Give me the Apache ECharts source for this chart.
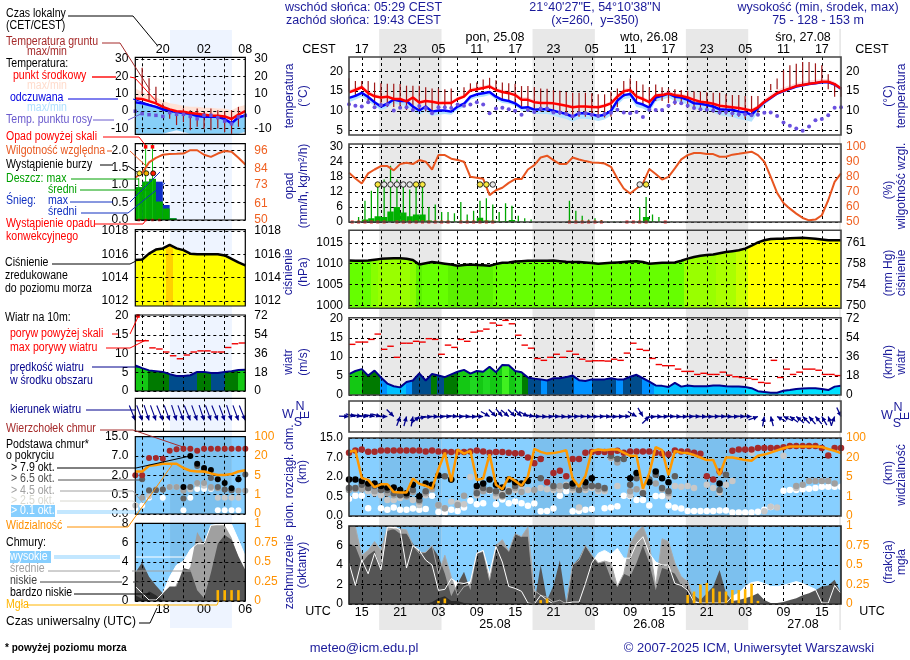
<!DOCTYPE html>
<html>
<head>
<meta charset="utf-8">
<style>html,body{margin:0;padding:0;background:#fff}#chart{width:910px;height:660px}</style>
<script src="https://cdn.jsdelivr.net/npm/echarts@6/dist/echarts.min.js"></script>
</head>
<body>
<div id="chart"></div>
<script>
// hours are counted from 24.08 00 UTC
var mainHours = [];
for (var h = 13; h <= 90; h++) mainHours.push(h);
var mainHalf = mainHours.slice(0, 77).map(function (v) { return v + 0.5; });
var sideHours = [14,15,16,17,18,19,20,21,22,23,24,25,26,27,28,29,30];
var sideHalf = sideHours.slice(0, 16).map(function (v) { return v + 0.5; });

var nightBands = [[17.72,27.48],[41.72,51.48],[65.72,75.48],[89.72,90]];
var sideNight = [[19.05,28.05]];

// ---- main panels
var meanTemp = [14.7,15.3,16,14.5,13.7,13.4,13.6,13,13,12.4,13.4,12.1,12.5,12.3,12,12,12,13,13.6,15.2,15.5,15.8,16.2,15.3,14.8,14.5,14,12.8,12.8,12.2,12,12,11.9,11.6,11.3,10.9,11.1,11.1,11,10.9,
  11.3,11.9,13.6,15,15.3,13.6,13,12.2,13.9,14,14.4,14,13.8,13.4,12.8,12.3,12.1,11.8,11.3,11.1,10.9,10.7,10.4,10,10.9,12.3,13.4,14.5,15.1,15.7,16.3,16.6,16.9,17.1,17.4,17.4,16.8,15.7];
var meanTempMax = [15.3,16,16.6,15.2,14.3,14,14.2,13.6,13.6,13,14,12.7,13.1,12.9,12.5,12.6,12.5,13.6,14.2,15.8,16.1,16.4,16.8,15.9,15.4,15.2,14.7,13.5,13.5,12.8,12.5,12.5,12.4,12.1,11.8,11.4,11.6,11.6,11.5,11.4,
  11.8,12.5,14.2,15.6,16,14.3,13.6,12.8,14.5,14.6,15,14.6,14.4,14,13.4,12.9,12.7,12.4,11.9,11.7,11.5,11.3,11,10.6,11.5,13,14.2,15.3,16,16.5,17.1,17.4,17.7,17.9,18.1,18.1,17.4,16.2];
var feltTemp = [13.3,13.8,14.6,13.5,12.2,11.1,11.8,12.9,12.5,12.5,11.1,10.1,11.1,9.8,10.1,10.1,9.8,11.1,11.8,13.6,14.2,14.5,14.8,13.6,12.8,12.5,11.9,10.8,10.9,10.3,10.4,10.4,10,9.6,9.2,8.5,9.4,9.4,9.1,8.7,
  9,10,12.6,14,14.3,12.1,11.6,10.8,13.4,13.8,14.4,13.6,13.4,12.8,11.9,11.8,11.5,11.1,10.4,10.3,10.3,9.8,9.6,9,10.7,12.2,13.3,14.4,15,15.6,16.2,16.5,16.8,17,17.3,17.3,16.7,15.6];
var feltTempMin = [12.2,12.8,13.6,12.5,11.2,10.2,10.8,11.9,11.5,11.3,10,9,9.8,8.7,9,9.2,9,10.2,11,12.8,13.4,13.6,14,12.8,12,11.8,11.2,10,9.9,9.2,9.2,9.2,8.8,8.3,7.9,7.2,8,8,7.8,7.4,
  7.8,8.8,11.5,13,13.2,11,10.6,9.6,12.3,12.8,13.4,12.5,12.2,11.6,10.6,10.4,10,9.6,8.9,8.6,8.4,7.9,7.6,7.2,9.6,11.5,12.8,14,14.7,15.3,15.9,16.2,16.5,16.7,17,17,16.3,15];
var groundMax = [18.3,17.6,17.6,17.6,17.2,17,16.9,16.9,16.8,16.4,16.4,16.4,16,15.7,15.7,15.5,15.7,null,16,17,17.2,18,18.4,17.8,17.2,17,16.9,16.3,16.3,16,15.7,15.6,15.3,15.1,14.8,14.6,14.6,14.6,14.5,14.2,
  14.2,14.9,15.7,17.6,18.2,17.6,16.7,16,16.7,16,15.7,15.5,15.3,15.1,14.9,14.9,14.7,14.6,14.6,14.2,14,14,13.8,13.8,13.8,null,16.8,18.2,20.3,21.6,22,22.4,22.4,22.1,21.6,19.3,17,16];
var groundMin = [15,13.6,15.8,12.5,11.5,11.5,11,11,11,10.2,10.2,9.8,9.8,9.8,10.5,10.5,10.5,null,13.5,15,15,15.3,15.5,15,13,12.5,12,11,11,10,9.8,9.8,9.5,9,9,8.5,8.5,8.5,8.5,8.3,
  8.3,8.5,11,13.5,14.2,12,11.5,11,12.5,12.5,12,11.5,11.5,11,10.5,10,10,9.5,9,9,8.5,8.5,8,8.5,9.5,null,15.2,15.5,15.5,16,16.5,16.8,17,17,17.2,15.5,13.6,13.6];
var dewPoint = [11.7,11.3,11.1,12.2,10.9,11.5,11.6,10.1,10.8,10.9,10.2,11.2,10.7,9.4,10.9,10.9,10.7,11.6,11.3,11.6,12.2,11.6,9.4,10.6,10.8,10.4,10,9,10.2,9.7,10.6,10.6,9.6,9.6,9.2,8.6,9.4,9.4,9,8.7,
  9.2,9.5,10.3,9.6,9.4,9.7,8.4,10.3,10.2,10.2,11.3,12.2,11.9,11.3,10.7,10.4,10.3,10.1,9.6,9.7,9.4,9.1,9.1,8.9,9,9.5,9.6,8.7,7,6.2,5.5,4.9,6,7.6,7.9,8.9,10.8,10.9];

var precipMax = [0,2,8.5,12.5,15,17,22.5,17,15.5,13,14,15.5,6,7,4,4,3.5,8,3,4.5,8.5,9.5,7,4,7.5,6.5,2.5,1.5,1,0,0,0,0,0,8.5,4.5,2.5,1,1.5,0.8,
  0.3,0.3,0.3,0.3,0.3,6,10,3,2,0.3,0.2,0,0,0,0,0,0,0,0,0,0,0,0,0,0,0,0,0,0,0,0,0,0,0,0,0,0];
var precipMean = [0,0.2,1,1.5,2.3,2,4.2,6,3.8,2.3,3,3,0.6,0.3,0.2,0.2,0.2,0.2,0.2,0.2,1.7,0.6,0.5,0.3,0.4,0.8,0.2,0.1,0,0,0,0,0,0,0.2,0.1,0,0,0,0,
  0,0,0,0,0,0.2,2,0.3,0.1,0,0,0,0,0,0,0,0,0,0,0,0,0,0,0,0,0,0,0,0,0,0,0,0,0,0,0,0];
var convectiveAt = [13.5,14.5,15.5,16.5,17.5,18.5,20.5,21.5,22.5,23.5,24.5,25.5,26.5,27.5,28.5,30.5,31.5,32.5,33.5,34.5,35.5,47.5,48.5,49.5,50.5,51.5,52.5,56.5,57.5,58.5,59.5,62.5];
var stormYellowAt = [17.5,23.5,24.5,33.5,34.5,59.5];
var stormPaleAt = [18.5,19.5,20.5,21.5,22.5,35.5,58.5];
var stormLevel = 15;
var humidity = [82.8,79,75.7,82.4,85,87.3,87.3,84.4,88.6,89.5,88.6,91.3,90.2,85,94.6,94.6,92.2,91.3,90.2,80.1,79.5,78.8,67.9,71.2,72.8,76.1,78.6,78.6,85,87.9,93,94.2,91.3,88.6,88.6,93,91.7,90.6,89.7,89.5,
  89,86.8,79,72.3,69,72.3,75.7,85.3,82,78.3,80.1,85.7,91.7,94.6,96,96,95.3,95.3,93.5,93.5,94.9,95.5,96.2,96.9,94.6,90.2,80.1,69.4,62.7,58.9,55.6,52.7,51.1,51.6,54.5,64.5,76.8,82.4];

var pressure = [1010.75,1010.7,1010.7,1010.75,1010.95,1011.15,1011.25,1011.3,1011.3,1011.2,1010.9,1009.8,1010.1,1010.4,1010.2,1010,1009.8,1009.5,1009.7,1009.8,1009.7,1009.6,1009.5,1009.9,1010.2,1010.3,1010.5,1010.6,1010.7,1010.7,1010.7,1010.7,1010.75,1010.6,1010.45,1010.4,1010.4,1010.3,1010.15,1010,
  1010.1,1010.2,1010.3,1010.4,1010.5,1010.6,1010.4,1010,1010.1,1010.2,1010.25,1010.3,1010.7,1011.2,1011.6,1011.9,1012.05,1012.2,1012.5,1012.8,1013,1013.2,1013.6,1014.3,1015.1,1015.6,1015.9,1016,1016,1016.1,1016.15,1016.2,1016.1,1016,1015.8,1015.6,1015.6,1015.6];
var windSpeed = [5.5,6.3,6.8,5.1,6.4,4.6,3,2.3,2,3.4,3.8,5.7,3.8,5.5,5.1,4.7,5.4,6.1,6.6,5.6,6.3,6.1,7.4,6,7.9,7.8,6.3,6,4.6,4.3,4.1,3.8,4.4,4.4,4.7,5.1,3.9,3.7,4.1,4.1,
  4.1,4.4,4.1,4.1,4.8,5.3,4.4,3.5,2.5,2.4,2.1,3.2,2.2,2.5,2.3,2.3,2.3,2.5,2.5,2.3,2.2,2.2,2.1,1.8,1,0.8,0.6,0.6,1.1,1.3,1.6,1.7,1.8,1.8,1.6,1.3,2.2,2.4];
var windGust = [13.3,13.9,13.9,14.6,16,12,12.8,9.9,13.6,13.6,14.1,13.9,14.8,14.6,10.7,13.1,12.5,14.6,14.1,16.5,16.8,17.3,18.9,18.3,19.6,18.7,15.7,13.1,12.3,9.6,9.1,9.9,10.7,9.9,11.5,10.7,9.4,8.9,9,9,
  8.9,9.4,9.1,11,13.6,12,11.7,9.6,8,7.7,7.7,6.8,6.2,6.2,5.4,5.7,5.4,5.4,6,5.2,4.8,4.6,4.4,4.1,3.3,3.1,9.1,4.6,6.8,5.4,6,6.8,6.8,6.5,5.4,5.4,5.1];
var windDir = [272,285,280,275,280,285,270,315,200,195,190,230,255,265,270,268,272,275,270,272,268,270,300,315,320,310,315,315,300,280,272,270,268,272,270,268,270,272,270,268,
  270,272,268,270,272,300,330,225,265,270,268,272,270,268,270,272,270,268,270,272,270,268,272,270,250,190,165,120,115,125,130,135,140,140,150,160,200,335];
// colour of the wind area: [until hour, colour]
var windBright = '#40f020', windGreen = '#14c814', windLime = '#20d820', windDark = '#007a00', windNavy = '#004c8c', windBlue = '#0090ff', windSky = '#00c0ff', windCyan = '#00e0ff';
var windSegments = [[15,windGreen],[17.9,windDark],[18.9,windBlue],[21.9,windSky],[22.8,windBlue],[25.9,windNavy],[26.8,windDark],[27.9,windNavy],[30,windDark],[32,windGreen],[33,windLime],[34,windGreen],[35,windLime],[37,windGreen],[38,windBright],[39,windGreen],[40,windLime],[41,windDark],[43,windNavy],[44,windBlue],[48.2,windNavy],[51,windBlue],[54.8,windNavy],[55.9,windBlue],[58.8,windNavy],[60.8,windBlue],[74.9,windSky],[90,windCyan]];
var sideWindSegments = [[15.8,windGreen],[18.9,windDark],[23,windNavy],[25,windDark],[27.1,windNavy],[29,windDark],[30,windGreen]];

var cloudTop = [9,9.9,10.3,9.4,9.4,9.9,9.9,9.9,9.9,9.9,9.9,9.9,9.5,9.9,9.5,9.3,9.3,9.3,9.3,9.5,9.9,9.5,9,9.3,9.3,9,8.7,8.7,7,5.5,6.6,1.6,3,3.6,2.2,6.6,6.6,9,9.3,9.3,
  9.3,9.3,9.8,9,9.5,9.5,9.5,9.5,9,8.6,8.3,9.9,9.5,9.5,9,8.5,2.2,1.8,3.4,null,9.8,10.3,10.3,10.3,10.9,10.9,10.9,10.9,11.2,11.7,11.7,11.7,11.7,11.7,10.9,7.8,10.9,10.9];
var cloudBlack = [1.8,1.8,1.7,1.5,1.5,1.3,1.2,1.2,1,0.75,1.4,0.52,1.5,1.4,2.4,null,1.8,null,null,null,1.3,1.5,1.8,1.4,1.2,1.8,1.6,1.5,1.7,null,null,null,null,null,null,1.5,null,1.6,1.9,null,
  null,null,null,null,1.9,3,null,1.6,3.4,1.9,1.6,null,null,null,null,null,null,null,1.5,null,null,null,null,null,null,null,null,null,null,null,null,null,null,null,null,null,null,null];
var cloudDark = [1.15,1.15,1.4,1.15,1.3,1,1,0.75,0.6,0.6,1,0.41,0.9,1.3,null,2.2,1.8,null,null,null,0.75,1.15,1,0.9,0.6,0.9,1.3,null,null,null,1.9,null,1.3,null,1.3,1.3,1,1.3,1.3,1.3,
  1.15,7.7,6.6,6.6,1.4,1.9,0.75,1.8,2.6,1.15,0.9,2.2,null,null,null,null,null,null,1,2.6,null,null,null,null,null,null,null,null,null,null,null,null,null,null,null,null,null,null];
var cloudGray = [1,1.05,1.05,1.15,0.9,1.05,0.75,0.6,0.9,0.5,0.85,0.37,0.75,1.05,0.28,0.2,null,0.28,0.55,null,0.95,0.9,1,0.75,0.5,0.85,1.15,0.85,null,1,null,null,1.15,1.3,1.3,1.15,1.05,1.15,1.3,1.05,
  1.05,7,5.7,null,0.9,1.05,0.75,null,1.5,1.05,0.75,null,null,null,null,null,null,null,null,null,null,null,null,null,null,null,null,null,null,null,1.3,1.4,1.7,1.7,1.7,1.7,1.5,null];
var cloudLight = [1.15,1.15,1.15,0.9,0.75,0.6,0.41,0.41,0.46,0.5,0.41,0.28,0.6,1.3,0.26,0.2,0.37,0.33,0.3,2,0.6,null,null,0.5,0.75,1,1,1.3,1,null,1.15,1.05,1,1,1.4,1,0.22,1,1.15,0.9,
  0.9,6.8,1.3,null,0.6,null,1,null,null,1.05,0.5,1.3,1.25,1.3,1.15,null,1.4,1.15,0.8,1.4,1.7,null,null,8.9,null,0.12,0.24,0.22,7.7,null,1.15,null,null,null,null,null,null,null];
var cloudWhite = [0.44,0.55,0.55,0.2,null,0.2,0.16,0.22,0.16,0.16,0.19,0.16,0.18,0.55,0.1,0.09,0.16,0.13,0.22,0.39,0.3,0.33,0.95,0.3,0.42,0.33,0.37,0.33,0.26,0.32,0.12,0.13,0.19,0.55,0.9,0.12,0.13,0.16,0.18,null,
  0.2,0.22,0.25,0.55,0.53,0.41,0.41,0.27,0.53,0.53,0.27,0.22,0.19,0.13,0.13,0.13,0.13,0.13,0.14,0.14,0.09,0.09,0.09,0.09,0.11,0.16,0.23,null,0.95,1,1,1.05,1.1,1.15,1.25,1.25,1.25,1.25];
var visibility = [43,49,4.8,4.4,2.9,3.5,3.5,1.9,1.8,1.8,4.7,3.6,3.2,2.6,11,40,4.1,53,36,47,4.4,4.7,33,3.4,2.5,5,4.2,3.2,5.5,55,43,36,38,43,50,4.7,3,5.8,47,53,
  50,53,53,40,27,27,2.6,8,63,50,6.4,47,40,38,30,20,18,18,6.4,20,20,19,18,17.5,27,32,40,49,58,65,65,65,65,65,63,55,47,38];

var coverHigh = [4.2,1.9,4.5,3.1,5.2,3.5,7.9,8,7.6,3.7,6,5.5,4.5,4,1.4,1.5,2.6,2.2,2.1,2.3,5.2,5.5,3.1,5.9,4.3,1.8,1.6,1.3,0.1,0,0.9,0.4,0,0,0.1,0.2,0.2,2.1,4.2,5.2,
  5.5,5.1,5.7,4.7,4.7,6.2,6.9,5.2,4.3,4,4,2.1,1.9,1.4,0.2,0.1,0.1,0.1,0.1,0.1,0.8,1.1,1.8,2.2,2.3,2.1,1.8,1.8,1.9,2.1,2.3,2.1,1.8,1.5,0.1,0.1,1.9,1.1];
var coverMid = [8,7.9,5,5.5,6.4,5.5,7.8,7.7,7.7,7.6,6,5.2,5.3,6,3.1,5,2.8,0.9,1.8,2,5.2,5.4,2.5,6,6.6,5.4,7.2,6.9,7.9,1.4,0.9,0.7,0.2,0.4,0,4,4.5,6,5,4.2,
  4.4,4.2,1.8,3.1,6.2,7.3,8,6.2,1.8,6.7,6.4,4.2,2.8,2.3,0.4,0,0,0,0,0,0,0,0,0,0,0,0,0,0,0,0,0,0,0,0,0,0,0];
var coverLow = [6.2,5.9,4.2,5,5.5,3.5,7.5,7.7,7.2,7.2,6.2,5.3,5.3,5.9,4.9,3.1,0.8,2.1,3.3,1.4,5.2,5.4,2.3,5.9,6,5.4,7.2,6.9,6.9,0.1,4,0.4,1.9,4.5,0.1,4,4.7,6,5,4.2,
  4.3,2.6,1.8,3.1,2.8,4.2,6,4.2,1.4,3.7,3.5,3.1,1.9,1.6,0.9,0.4,1.1,1.8,3.5,1.1,0.3,0.4,0.6,0.8,1.1,0.4,0.1,0.1,0.2,0.4,0.6,0.9,1.1,1.4,1.8,1.9,2.5,1.1];
var coverVeryLow = [0,0,0,0,0,0,0,0,0,0,0,0,0,0.2,0.6,0.8,0.3,0.3,0.1,0,0,0,0,0,0,0,0,0,0,0,0,0,0,0,0,0.2,0.2,0,0,0,
  0,0,0,0,0,0,0,0,0,0,0,0,0,0,0,0,0,0,0,0,0,0,0,0,0,0,0,0,0,0,0,0,0,0,0,0,0,0];
var fogAt = [27,28,43,44,66,67,68,69,70,71,72,73,74,75,76,77];
var fogFrac = [0.04,0.07,0.05,0.07,0.115,0.16,0.25,0.27,0.2,0.16,0.16,0.18,0.18,0.19,0.26,0.04];

// ---- side (legend) panels
var sideMean = [7.3,7,5.8,4.5,2.5,1,0,-0.3,-1,-1.5,-2,-2.5,-2.6,-3,-4.5,-2,0];
var sideMeanMax = [13,11,9.5,8,6,4.5,4,3,2.5,2.5,2,2,1.5,1.5,0.5,2.5,3.5];
var sideFelt = [5.2,4.5,3.5,2.5,1,0.2,-0.5,-1,-1.5,-2.8,-3.2,-3.2,-3.2,-4.5,-7,-3.5,-2.5];
var sideFeltMin = [-13,-13,-13,-13,-13,-12,-11,-12,-13,-13,-13,-13,-13,-13,-13,-13,-12];
var sideGroundAt = [15,16,17,18,19,20,21,22,23,24,25,26,27,28,29];
var sideGroundMax = [25,19,14,4.5,0.6,-0.4,1.6,0.6,1.6,-0.4,1.6,0.6,0,0.6,2.5];
var sideGroundMin = [10,6.5,4.5,0,-4.3,-8,-6.3,-11,-9,-10,-11,-10,-12,-13,-9];
var sideDew = [0,-1.4,-2,-2.4,-3,-0.8,-1.8,-1.8,-3,-4.3,-2.4,-2.4,-3.7,-5.7,-7.3,-3.3,-2.4];
var sideRainMean = [0.94,1.1,1.18,0.53,0.33,0.05,0,0,0,0,0,0,0,0,0,0];
var sideSnowTop = [0.94,1.1,1.18,1.1,0.43,0.05,0,0,0,0,0,0,0,0,0,0];
var sideRainMax = [1.2,2.2,2.2,0,0,0,0,0,0,0,0,0,0,0,0,0];
var sideAboveAt = [15.5,16.5];
var sideAboveLevel = 2.1;
var sideStormAt = [14.6,15.6,16.6];
var sideStormColor = ['#ffe830','#f0b000','#ff2000'];
var sideStormLevel = 1.34;
var sideConvectiveAt = [14.5,15.5,16.5,17.5];
var sideHumidity = [78,81,88,91,93,93.5,93.6,93.8,96,96,93,91.6,93.8,95.5,95,91,86.6];
var sidePressure = [1015.5,1015.55,1016.05,1016.4,1016.5,1016.8,1016.5,1016.35,1016.05,1016,1016,1016,1016,1015.9,1015.6,1015.3,1015.05];
var sideWind = [6.8,6.1,5.5,5.3,5.1,4.5,4,4,4.2,5.1,5.1,4.8,4.8,5.1,5.3,5.6,5.7];
var sideGust = [13.4,13.4,11.5,11.2,10.4,9.4,8.6,9.6,10.4,10.7,10.7,10.4,10.4,11.6,12.6,12.8];
var sideGustOver = [[14.4,20]];
var sideDir = [338,340,342,340,338,340,342,340,338,340,342,340,338,340,342,340,338];
var sideTop = [2,2,6.5,6.5,6.3,9.2,9.8,10,10,9.2,10,10,10,10,10,10,10];
var sideBlack = [null,null,null,null,null,null,null,1.1,7,5,3.9,3.4,1.7,1.4,1,1.7,null];
var sideDark = [null,1.7,0.85,0.85,0.9,null,null,0.4,1.1,4.4,3.4,1.8,1.1,0.9,0.85,1.7,2.2];
var sideGray = [null,0.42,0.8,0.9,0.9,1.1,1.1,0.8,1.1,1.4,1.4,1.1,1,0.9,0.85,0.8,0.8];
var sideLight = [0.22,null,0.46,0.9,0.9,1.1,1.1,1,0.9,1.3,1.2,1,0.42,0.42,0.42,0.42,null];
var sideWhite = [0.14,0.22,0.42,null,0.42,null,null,0.1,0.42,0.95,0.95,0.95,0.1,0.1,0.1,0.1,null];
var sideVis = [8,8,12.5,13,14,14,14,10.7,8.6,8,8,6.5,5.3,5.3,6,8,9];
var sideHigh = [1.5,0.8,0.1,0.1,0.8,2.5,3.7,4.1,5.3,5.9,5.9,7.8,7.9,8,7.9,6.3,4.6];
var sideMid = [0,0,0,0,0,0,1.8,2.5,3.5,7.1,5.9,7.8,7.8,7.8,6.5,4.5,3];
var sideLow = [2.9,4,2.5,1.6,0.8,1.5,1.5,3.4,3.2,1.1,0.3,2.9,5.9,6.8,6.3,4.6,3.2];
var sideVeryLow = [0.6,0.2,1,0.6,0,0,0,0,0,0,0,0,0,0,0,0,0];
var sideFogAt = [26,27,28,29];
var sideFog = [0.14,0.14,0.14,0.14];

// ---- tick labels
var tempTicks = [5,10,15,20];
var precipTicks = [0,6,12,18,24,30];
var humTicks = [50,60,70,80,90,100];
var pressTicks = [1000,1005,1010,1015];
var mmHgLabels = ['750','754','758','761'];
var windTicks = [0,5,10,15,20];
var kmhLabels = ['0','18','36','54','72'];
var heightSteps = [0,0.5,2,7,15];
var heightLabels = ['0.0','0.5','2.0','7.0','15.0'];
var visSteps = [0,1,5,20,100];
var visLabels = ['0','1','5','20','100'];
var coverTicks = [0,2,4,6,8];
var fogTicks = [0,0.25,0.5,0.75,1];
var fogLabels = ['0','0.25','0.5','0.75','1'];
var sideTempTicks = [-10,0,10,20,30];
var sidePrecipTicks = [0,0.5,1,1.5,2];
var sidePrecipLabels = ['0.0','0.5','1.0','1.5','2.0'];
var sideHumTicks = [50,61,73,84,96];
var sidePressTicks = [1012,1014,1016,1018];

var pressPalette = [[1009.85,'#5cf000'],[1010.9,'#66ff00'],[1011.1,'#88ff00'],[1012.4,'#99ff00'],[1013.1,'#aaff00'],[1013.7,'#c8ff00'],[1014.1,'#ddff00'],[1016.7,'#ffff00'],[9999,'#ffd000']];

var FONT = '"Liberation Sans", Arial, sans-serif';
var NAVY = '#00008c';
var DASH = {color: '#000', type: [3, 3], width: 1};

function pad2(v) { return (v < 10 ? '0' : '') + v; }
function paletteColor(pal, v) {
  for (var i = 0; i < pal.length; i++) if (v < pal[i][0]) return pal[i][1];
  return pal[pal.length - 1][1];
}
// the cloud height and visibility axes are stepped, one unit per tick
function stepPos(steps, v) {
  if (v === null) return null;
  for (var i = 0; i < steps.length - 1; i++) {
    if (v <= steps[i + 1]) return i + (v - steps[i]) / (steps[i + 1] - steps[i]);
  }
  return steps.length - 1;
}
function zip(xs, ys) { return xs.map(function (x, i) { return [x, ys[i] === undefined ? null : ys[i]]; }); }

var grids = [], xAxes = [], yAxes = [], series = [];

var mainTicks = [];
for (var t = 15; t < 90; t += 3) mainTicks.push(t);
var mainLabelAt = [];
for (var t2 = 15; t2 <= 87; t2 += 6) mainLabelAt.push(t2);
var sideTicks = [15,18,21,24,27];
var sideLabelAt = [18,24,30];

// adds one panel with a left and a right value axis, returns its grid index
function addPanel(p) {
  var g = grids.length;
  grids.push({left: p.x, top: p.y, width: p.w, height: p.h, show: !!p.bg, backgroundColor: p.bg || 'transparent', borderWidth: 0, containLabel: false});
  var labelOn = !!p.hourLabels;
  xAxes.push({type: 'value', gridIndex: g, min: p.from, max: p.to, position: p.labelTop ? 'top' : 'bottom', z: 3,
    axisLine: {show: false},
    axisTick: {show: false, customValues: p.gridX},
    splitLine: {show: p.gridX.length > 0, lineStyle: DASH},
    axisLabel: labelOn ? {show: true, customValues: p.hourLabels, formatter: p.hourFormat, color: '#000', fontFamily: FONT, fontSize: 12.5, margin: p.labelTop ? 1 : 2, hideOverlap: false, showMinLabel: true, showMaxLabel: true} : {show: false}
  });
  function yAxis(pos, ticks, labels, color, margin, split) {
    return {type: 'value', gridIndex: g, position: pos, min: p.min, max: p.max, z: 3,
      axisLine: {show: false},
      axisTick: {show: false, customValues: ticks},
      splitLine: {show: !!split, lineStyle: DASH},
      axisLabel: {show: ticks.length > 0, customValues: ticks, color: color, fontFamily: FONT, fontSize: 12, margin: margin, hideOverlap: false, showMinLabel: true, showMaxLabel: true,
        formatter: function (v) { var i = ticks.indexOf(v); return i < 0 ? '' : labels[i]; }}
    };
  }
  var rightMin = p.rMin !== undefined ? p.rMin : p.min;
  yAxes.push(yAxis('left', p.lTicks, p.lLabels || p.lTicks.map(String), '#000', p.lMargin, true));
  var ra = yAxis('right', p.rTicks, p.rLabels || p.rTicks.map(String), p.rColor || '#000', p.rMargin, false);
  ra.min = rightMin;
  ra.max = p.rMax !== undefined ? p.rMax : p.max;
  yAxes.push(ra);
  return g;
}
function L(g) { return {xAxisIndex: g, yAxisIndex: 2 * g}; }
function R(g) { return {xAxisIndex: g, yAxisIndex: 2 * g + 1}; }
function add(base, s) { for (var k in base) s[k] = base[k]; s.animation = false; s.silent = true; series.push(s); }

function line(ax, xs, ys, color, width, z) {
  add(ax, {type: 'line', data: zip(xs, ys), showSymbol: false, z: z || 5, lineStyle: {color: color, width: width}, itemStyle: {color: color}});
}
function area(ax, xs, ys, color, z) {
  add(ax, {type: 'line', data: zip(xs, ys), showSymbol: false, z: z || 2, lineStyle: {width: 0}, areaStyle: {color: color, opacity: 1}});
}
function dots(ax, xs, ys, color, size, z, border, symbol) {
  add(ax, {type: 'scatter', data: zip(xs, ys).filter(function (d) { return d[1] !== null; }), symbol: symbol || 'circle', symbolSize: size, z: z || 6, itemStyle: {color: color, opacity: 1, borderColor: border || color, borderWidth: border ? 0.8 : 0}});
}
// area under a line, coloured by hour from a palette
function paletteArea(ax, xs, ys, pal, z) {
  var a = xs[0], b = xs[xs.length - 1], stops = [];
  xs.forEach(function (x, i) {
    var c = paletteColor(pal, ys[i]);
    stops.push({offset: Math.max(0, (x - 0.5 - a) / (b - a)), color: c});
    stops.push({offset: Math.min(1, (x + 0.5 - a) / (b - a)), color: c});
  });
  area(ax, xs, ys, new echarts.graphic.LinearGradient(0, 0, 1, 0, stops), z);
}
// area under a line, coloured from [until hour, colour] segments
function segmentArea(ax, xs, ys, segs, z) {
  var a = xs[0], b = xs[xs.length - 1], stops = [], prev = 0;
  segs.forEach(function (s) {
    var end = Math.min(1, (s[0] - a) / (b - a));
    stops.push({offset: prev, color: s[1]});
    stops.push({offset: end, color: s[1]});
    prev = end;
  });
  area(ax, xs, ys, new echarts.graphic.LinearGradient(0, 0, 1, 0, stops), z);
}
// vertical bars between two values, width in px or one hour wide when null
function rangeBars(ax, xs, lo, hi, color, px, z) {
  var data = [];
  xs.forEach(function (x, i) { if (hi[i] !== null && lo[i] !== null && hi[i] !== lo[i]) data.push([x, lo[i], hi[i]]); });
  add(ax, {type: 'custom', data: data, z: z || 4, encode: {x: 0, y: [1, 2]}, renderItem: function (params, api) {
    var a = api.coord([api.value(0), api.value(1)]), b = api.coord([api.value(0), api.value(2)]);
    var w = px || api.size([1, 0])[0];
    return {type: 'rect', shape: {x: a[0] - w / 2, y: Math.min(a[1], b[1]), width: w, height: Math.abs(a[1] - b[1])}, style: {fill: color}};
  }});
}
function zeros(xs) { return xs.map(function () { return 0; }); }
// filled band between two value lists
function band(ax, xs, lo, hi, color, z) {
  add(ax, {type: 'custom', data: zip(xs, lo), z: z || 1.5, encode: {x: 0, y: 1}, renderItem: function (params, api) {
    if (params.dataIndex !== 0) return null;
    var pts = [];
    xs.forEach(function (x, i) { pts.push(api.coord([x, hi[i]])); });
    for (var i = xs.length - 1; i >= 0; i--) pts.push(api.coord([xs[i], lo[i]]));
    return {type: 'polygon', shape: {points: echarts.graphic.clipPointsByRect(pts, params.coordSys)}, style: {fill: color}};
  }});
}
// vertical stripes over the whole height of a panel
function stripes(ax, bands, color, z) {
  add(ax, {type: 'custom', clip: false, data: bands.map(function (b) { return [b[0], b[1]]; }), z: z, encode: {x: [0, 1]}, renderItem: function (params, api) {
    var cs = params.coordSys;
    var a = api.coord([api.value(0), 0])[0], b = api.coord([api.value(1), 0])[0];
    return {type: 'rect', shape: {x: a, y: cs.y, width: b - a, height: cs.height}, style: {fill: color}};
  }});
}
function frame(ax, from, color, width) {
  add(ax, {type: 'custom', clip: false, data: [[from, 0]], z: 7, encode: {x: 0, y: 1}, renderItem: function (params) {
    var cs = params.coordSys;
    return {type: 'rect', shape: {x: cs.x, y: cs.y, width: cs.width, height: cs.height}, style: {fill: null, stroke: color, lineWidth: width}};
  }});
}
// wind arrows, head on the given level and the tail towards where the wind comes from
function arrows(ax, xs, dirs, level, len, headSize, lw) {
  add(ax, {type: 'custom', clip: false, data: xs.map(function (x, i) { return [x, level, dirs[i]]; }), z: 6, encode: {x: 0, y: 1}, renderItem: function (params, api) {
    var c = api.coord([api.value(0), api.value(1)]);
    var d = api.value(2) * Math.PI / 180;
    var sx = Math.sin(d), sy = -Math.cos(d);
    return {type: 'group', children: [
      {type: 'line', shape: {x1: c[0], y1: c[1], x2: c[0] + sx * len, y2: c[1] + sy * len}, style: {stroke: NAVY, lineWidth: lw}},
      {type: 'polygon', shape: {points: [[c[0], c[1]], [c[0] + sx * headSize * 1.6 - sy * headSize * 0.8, c[1] + sy * headSize * 1.6 + sx * headSize * 0.8], [c[0] + sx * headSize * 1.6 + sy * headSize * 0.8, c[1] + sy * headSize * 1.6 - sx * headSize * 0.8]]}, style: {fill: NAVY}}
    ]};
  }});
}

var MX = 349, MW = 492, SX = 135.3, SW = 110;
function mainP(o) { o.x = MX; o.w = MW; o.from = 13; o.to = 90; o.gridX = mainTicks; o.lMargin = 6; o.rMargin = 5; return o; }
function sideP(o) { o.x = SX; o.w = SW; o.from = 14; o.to = 30; o.gridX = sideTicks; o.lMargin = 7; o.rMargin = 9; return o; }

// page wide shading sits on two empty grids
var bgMain = addPanel({x: MX, w: MW, y: 29, h: 601, from: 13, to: 90, min: 0, max: 1, gridX: [], lTicks: [], rTicks: [], lMargin: 0, rMargin: 0});
stripes(L(bgMain), nightBands, '#e8e8e8', 0);
var bgSide = addPanel({x: SX, w: SW, y: 30, h: 598, from: 14, to: 30, min: 0, max: 1, gridX: [], lTicks: [], rTicks: [], lMargin: 0, rMargin: 0});
stripes(L(bgSide), sideNight, '#eef4ff', 0);

// temperature
var g = addPanel(mainP({y: 57, h: 78, min: 3.85, max: 23.7, lTicks: tempTicks, rTicks: tempTicks, labelTop: true, hourLabels: mainLabelAt, hourFormat: function (v) { return pad2((v + 2) % 24); }}));
band(L(g), mainHours, meanTemp, meanTempMax, '#ffdcdc');
band(L(g), mainHours, feltTempMin, feltTemp, '#b3e2ff');
rangeBars(L(g), mainHours, groundMin, groundMax, '#a01818', 1.2);
dots(L(g), mainHours, dewPoint, '#6a50e0', 4);
line(L(g), mainHours, feltTemp, '#0000ff', 2.5);
line(L(g), mainHours, meanTemp, '#ff0000', 2.5);
frame(L(g), 13, '#444', 1.6);

// precipitation and humidity
g = addPanel(mainP({y: 144, h: 78, min: 0, max: 31.2, lTicks: precipTicks, rTicks: humTicks, rMin: 50, rMax: 102, rColor: '#f06020'}));
rangeBars(L(g), mainHalf, zeros(mainHalf), precipMax, '#00a800', 1.3);
rangeBars(L(g), mainHalf, zeros(mainHalf), precipMean, '#00b000', null);
dots(L(g), convectiveAt, zeros(convectiveAt), '#e02020', 3, 6, null, 'rect');
dots(L(g), stormYellowAt, stormYellowAt.map(function () { return stormLevel; }), '#f8e840', 5.5, 6, '#000');
dots(L(g), stormPaleAt, stormPaleAt.map(function () { return stormLevel; }), '#e8e8e8', 5.5, 6, '#000');
line(R(g), mainHours, humidity, '#e85520', 2);
frame(L(g), 13, '#444', 1.6);

// pressure
g = addPanel(mainP({y: 230.3, h: 78, min: 999.3, max: 1018, lTicks: pressTicks, rTicks: pressTicks, rLabels: mmHgLabels}));
paletteArea(L(g), mainHours, pressure, pressPalette);
line(L(g), mainHours, pressure, '#000', 2.5);
frame(L(g), 13, '#444', 1.6);

// wind
g = addPanel(mainP({y: 317.7, h: 77.3, min: 0, max: 20.3, lTicks: windTicks, rTicks: windTicks, rLabels: kmhLabels}));
segmentArea(L(g), mainHours, windSpeed, windSegments);
dots(L(g), mainHalf, windGust, '#f00000', [6.5, 1.4], 6, null, 'rect');
line(L(g), mainHours, windSpeed, '#00008c', 2);
frame(L(g), 13, '#444', 1.6);

// wind direction
g = addPanel(mainP({y: 401, h: 31, min: 0, max: 1, lTicks: [], rTicks: []}));
arrows(L(g), mainHours, windDir, 0.5, 10, 3, 1.3);
frame(L(g), 13, '#444', 1.6);

// cloud base heights and visibility
g = addPanel(mainP({y: 438, h: 78, min: 0, max: 4, lTicks: [0,1,2,3,4], lLabels: heightLabels, rTicks: [0,1,2,3,4], rLabels: visLabels, rColor: '#ff9000', bg: '#87cfff'}));
stripes(L(g), nightBands, '#7cc0ee', 1);
function heightDots(ax, xs, ys, color, size) {
  dots(ax, xs, ys.map(function (v) { return stepPos(heightSteps, v); }), color, size, 4);
}
heightDots(L(g), mainHours, cloudWhite, '#fff', 6.5);
heightDots(L(g), mainHours, cloudLight, '#c8c8c8', 6.5);
heightDots(L(g), mainHours, cloudGray, '#a0a0a0', 6.5);
heightDots(L(g), mainHours, cloudDark, '#606060', 6.5);
heightDots(L(g), mainHours, cloudBlack, '#000', 6.5);
heightDots(L(g), mainHours, cloudTop, '#a52a2a', 6.5);
line(L(g), mainHours, visibility.map(function (v) { return stepPos(visSteps, v); }), '#ff9900', 2.5);
frame(L(g), 13, '#333', 1.6);

// cloud cover and fog
g = addPanel(mainP({y: 526, h: 78, min: 0, max: 8, lTicks: coverTicks, rTicks: fogTicks, rLabels: fogLabels, rMin: 0, rMax: 1, rColor: '#ff9000', bg: '#87cfff', hourLabels: mainLabelAt, hourFormat: function (v) { return pad2(v % 24); }}));
stripes(L(g), nightBands, '#7cc0ee', 1);
area(L(g), mainHours, coverHigh, '#fff', 2);
area(L(g), mainHours, coverMid, '#a0a0a0', 2);
area(L(g), mainHours, coverLow, '#555', 2);
area(L(g), mainHours, coverVeryLow, '#2c2c2c', 2);
line(L(g), mainHours, coverMid, '#aaa', 1, 4);
line(L(g), mainHours, coverHigh, '#fff', 1, 4);
rangeBars(R(g), fogAt, zeros(fogAt), fogFrac, '#ffb400', 2.6, 5);
frame(L(g), 13, '#222', 1.6);

// ---- side panels
g = addPanel(sideP({y: 57.3, h: 77, min: -13.3, max: 31, lTicks: sideTempTicks, rTicks: sideTempTicks, labelTop: true, hourLabels: sideLabelAt, hourFormat: function (v) { return pad2((v + 2) % 24); }}));
band(L(g), sideHours, sideMean, sideMeanMax, '#ffe2d6');
band(L(g), sideHours, sideFeltMin, sideFelt, '#86cff8');
rangeBars(L(g), sideGroundAt, sideGroundMin, sideGroundMax, '#a01818', 1.2);
dots(L(g), sideHours, sideDew, '#6a50d8', 3.5, 6, null, 'rect');
line(L(g), sideHours, sideFelt, '#0000ff', 2.5);
line(L(g), sideHours, sideMean, '#ff0000', 2.5);
frame(L(g), 14, '#000', 1.2);

g = addPanel(sideP({y: 143.7, h: 76.3, min: 0, max: 2.19, lTicks: sidePrecipTicks, lLabels: sidePrecipLabels, rTicks: sideHumTicks, rMin: 50, rMax: 100.3, rColor: '#f06020'}));
rangeBars(L(g), sideHalf, zeros(sideHalf), sideSnowTop, '#1030c8', null);
rangeBars(L(g), sideHalf, zeros(sideHalf), sideRainMean, '#00aa00', null, 4.2);
rangeBars(L(g), sideHalf, zeros(sideHalf), sideRainMax, '#10c010', 1, 4.4);
dots(L(g), sideAboveAt, sideAboveAt.map(function () { return sideAboveLevel; }), '#ff0000', 3.5, 6, null, 'rect');
dots(L(g), sideConvectiveAt, zeros(sideConvectiveAt), '#e02020', 2.5, 6, null, 'rect');
sideStormAt.forEach(function (x, i) { dots(L(g), [x], [sideStormLevel], sideStormColor[i], 5, 6, '#000'); });
line(R(g), sideHours, sideHumidity, '#e85520', 2);
frame(L(g), 14, '#000', 1.2);

g = addPanel(sideP({y: 229.7, h: 76.3, min: 1011.57, max: 1018.1, lTicks: sidePressTicks, rTicks: sidePressTicks}));
paletteArea(L(g), sideHours, sidePressure, pressPalette);
line(L(g), sideHours, sidePressure, '#000', 2.5);
frame(L(g), 14, '#000', 1.2);

g = addPanel(sideP({y: 315, h: 76, min: 0, max: 20.27, lTicks: windTicks, rTicks: windTicks, rLabels: kmhLabels}));
segmentArea(L(g), sideHours, sideWind, sideWindSegments);
dots(L(g), sideHalf, sideGust, '#f00000', [6.5, 1.4], 6, null, 'rect');
dots(L(g), sideGustOver.map(function (d) { return d[0]; }), sideGustOver.map(function (d) { return d[1]; }), '#f00000', 3.5, 6, null, 'rect');
line(L(g), sideHours, sideWind, '#00008c', 2);
frame(L(g), 14, '#000', 1.2);

g = addPanel(sideP({y: 398.3, h: 33, min: 0, max: 1, lTicks: [], rTicks: []}));
arrows(L(g), sideHours, sideDir, 0.33, 16, 3, 1.1);
frame(L(g), 14, '#000', 1.2);

g = addPanel(sideP({y: 436.7, h: 77.3, min: 0, max: 4, lTicks: [0,1,2,3,4], lLabels: heightLabels, rTicks: [0,1,2,3,4], rLabels: visLabels, rColor: '#ff9000', bg: '#87cfff'}));
stripes(L(g), sideNight, '#7cc0ee', 1);
heightDots(L(g), sideHours, sideWhite, '#fff', 6);
heightDots(L(g), sideHours, sideLight, '#c8c8c8', 6);
heightDots(L(g), sideHours, sideGray, '#a0a0a0', 6);
heightDots(L(g), sideHours, sideDark, '#606060', 6);
heightDots(L(g), sideHours, sideBlack, '#000', 6);
heightDots(L(g), sideHours, sideTop, '#a52a2a', 6);
line(L(g), sideHours, sideVis.map(function (v) { return stepPos(visSteps, v); }), '#ff9900', 2.5);
frame(L(g), 14, '#000', 1.2);

g = addPanel(sideP({y: 523.3, h: 77.7, min: 0, max: 8, lTicks: coverTicks, rTicks: fogTicks, rLabels: fogLabels, rMin: 0, rMax: 1, rColor: '#ff9000', bg: '#87cfff', hourLabels: sideLabelAt, hourFormat: function (v) { return pad2(v % 24); }}));
stripes(L(g), sideNight, '#7cc0ee', 1);
area(L(g), sideHours, sideHigh, '#fff', 2);
area(L(g), sideHours, sideMid, '#a0a0a0', 2);
area(L(g), sideHours, sideLow, '#555', 2);
area(L(g), sideHours, sideVeryLow, '#2c2c2c', 2);
line(L(g), sideHours, sideHigh, '#fff', 1, 4);
rangeBars(R(g), sideFogAt, zeros(sideFogAt), sideFog, '#ffb400', 2.6, 5);
frame(L(g), 14, '#000', 1.2);

// ---- texts and leader lines
var graphic = [];
// legend text is narrow in the original, so it is squeezed a bit
function text(str, x, y, color, align) {
  graphic.push({type: 'text', z: 20, silent: true, x: x, y: y, scaleX: 0.88, style: {text: str, fill: color || '#000', align: align || 'left', verticalAlign: 'middle', font: '12px ' + FONT}});
}
function wide(str, x, y, color, align, size, weight) {
  graphic.push({type: 'text', z: 20, silent: true, x: x, y: y, style: {text: str, fill: color || '#000', align: align || 'left', verticalAlign: 'middle', font: (weight || '') + ' ' + (size || 12.5) + 'px ' + FONT}});
}
function vtext(str, x, y, color) {
  graphic.push({type: 'text', z: 20, silent: true, x: x, y: y, rotation: Math.PI / 2, style: {text: str, fill: color || '#1a1a9a', align: 'center', verticalAlign: 'middle', font: '12px ' + FONT}});
}
function lead(points, color, width) {
  graphic.push({type: 'polyline', z: 19, silent: true, shape: {points: points}, style: {stroke: color, lineWidth: width || 1, fill: null}});
}
function box(x, y, w, h, color) {
  graphic.push({type: 'rect', z: 18, silent: true, shape: {x: x, y: y, width: w, height: h}, style: {fill: color}});
}

var HEAD = '#1a1a9a';
wide('wschód słońca: 05:29 CEST', 363.5, 8, HEAD, 'center');
wide('zachód słońca: 19:43 CEST', 363.5, 21, HEAD, 'center');
wide('21°40\'27"E, 54°10\'38"N', 595, 8, HEAD, 'center');
wide('(x=260,  y=350)', 595, 21, HEAD, 'center');
wide('wysokość (min, środek, max)', 818, 8, HEAD, 'center');
wide('75 - 128 - 153 m', 818, 21, HEAD, 'center');
wide('pon, 25.08', 495, 38, '#000', 'center');
wide('wto, 26.08', 649, 38, '#000', 'center');
wide('śro, 27.08', 803, 38, '#000', 'center');
wide('CEST', 319, 50, '#000', 'center');
wide('CEST', 872, 50, '#000', 'center');
wide('UTC', 318, 612, '#000', 'center');
wide('UTC', 872, 612, '#000', 'center');
wide('25.08', 495, 625, '#000', 'center');
wide('26.08', 649, 625, '#000', 'center');
wide('27.08', 803, 625, '#000', 'center');
wide('meteo@icm.edu.pl', 364, 648, HEAD, 'center', 13);
wide('© 2007-2025 ICM, Uniwersytet Warszawski', 749, 648, HEAD, 'center', 13);
wide('* powyżej poziomu morza', 5, 648, '#000', 'left', 10, 'bold');
wide('Czas uniwersalny (UTC)', 6, 622, '#000', 'left', 12);

vtext('temperatura', 290, 96); vtext('(°C)', 304, 96);
vtext('opad', 290, 186); vtext('(mm/h, kg/m²/h)', 304, 186);
vtext('ciśnienie', 289, 272); vtext('(hPa)', 304, 272);
vtext('wiatr', 289, 362); vtext('(m/s)', 304, 362);
vtext('pion. rozciągł. chm.', 290, 476); vtext('(km)', 303, 472);
vtext('zachmurzenie', 290, 572); vtext('(oktanty)', 303, 565);
vtext('temperatura', 902, 96); vtext('(°C)', 889, 96);
vtext('wilgotność wzgl.', 902, 186); vtext('(%)', 889, 190);
vtext('ciśnienie', 902, 273); vtext('(mm Hg)', 889, 273);
vtext('wiatr', 902, 362); vtext('(km/h)', 889, 362);
vtext('widzialność', 902, 475); vtext('(km)', 889, 473);
vtext('mgła', 902, 562); vtext('(frakcja)', 889, 562);

wide('W', 288, 415, HEAD, 'center'); wide('N', 300, 407, HEAD, 'center'); wide('S', 298, 423, HEAD, 'center'); vtext('E', 306, 415, HEAD);
wide('W', 887, 416, HEAD, 'center'); wide('N', 898, 408, HEAD, 'center'); wide('S', 897, 424, HEAD, 'center'); vtext('E', 906, 416, HEAD);

var DR = '#a52a2a', GR = '#00a000', RD = '#ff0000', OR = '#e85820';
text('Czas lokalny', 6, 14); text('(CET/CEST)', 6, 26);
lead([[68,16],[133,16],[157,45]], '#000');
text('Temperatura gruntu', 6, 42, DR); text('max/min', 47, 52, DR, 'center');
lead([[102,43],[120,43],[150,90]], DR);
text('Temperatura:', 6, 64);
text('punkt środkowy', 13, 76, RD);
lead([[92,77],[116,77]], RD, 1.4); lead([[130,77],[135,78],[157,102]], RD);
text('max/min', 47, 86, '#ffdccc', 'center');
text('odczuwana', 10, 98, '#0000e0');
lead([[68,99],[118,99]], '#0000e0', 1.2); lead([[133,99],[173,112]], '#0000e0');
text('max/min', 47, 108, '#aee0ff', 'center');
text('Temp. punktu rosy', 6, 120, '#6a5acd');
lead([[93,120],[114,120]], '#6a5acd'); lead([[128,120],[143,113]], '#6a5acd');
text('Opad powyżej skali', 6, 137, RD);
lead([[103,137],[139,137],[146,146]], RD);
text('Wilgotność względna', 6, 151, OR);
lead([[107,151],[112,151]], OR); lead([[130,151],[145,165]], OR);
text('Wystąpienie burzy', 6, 165);
lead([[100,165],[113,165]], '#000'); lead([[128,166],[137,172]], '#000');
text('Deszcz: max', 6, 179, GR);
lead([[71,179],[139,179]], GR);
text('średni', 48, 190, GR);
lead([[80,190],[150,190]], GR);
text('Śnieg:', 6, 201, '#1030c0'); text('max', 48, 201, '#1030c0');
lead([[70,202],[113,202]], '#1030c0'); lead([[130,202],[160,172]], '#1030c0');
text('średni', 48, 212, '#1030c0');
lead([[81,213],[128,213],[165,183]], '#1030c0');
text('Wystąpienie opadu', 6, 224, RD); text('konwekcyjnego', 6, 237, RD);
lead([[95,224],[143,224],[146,220]], RD);
text('Ciśnienie', 5, 263); text('zredukowane', 5, 276); text('do poziomu morza', 5, 289);
lead([[52,264],[130,264],[136,261]], '#000');
text('Wiatr na 10m:', 5, 318);
text('poryw powyżej skali', 10, 334, RD);
lead([[112,334],[118,334]], RD); lead([[130,334],[138,317]], RD);
text('max porywy wiatru', 10, 348, RD);
lead([[106,348],[130,348],[146,340]], RD);
text('prędkość wiatru', 10, 368, '#00008c'); text('w środku obszaru', 10, 381, '#00008c');
lead([[92,367],[140,367]], '#00008c');
text('kierunek wiatru', 10, 410, '#00008c');
lead([[86,410],[136,410]], '#00008c');
text('Wierzchołek chmur', 6, 429, DR);
lead([[100,430],[133,430],[183,447]], DR);
text('Podstawa chmur*', 6, 445); text('o pokryciu', 6, 456);
text('> 7.9 okt.', 11, 468);
lead([[57,468],[136,468],[190,456]], '#000');
text('> 6.5 okt.', 11, 479, '#505050');
lead([[58,480],[143,480]], '#505050');
text('> 4.5 okt.', 11, 491, '#a0a0a0');
lead([[60,491],[133,491],[143,503]], '#a0a0a0');
text('> 2.5 okt.', 11, 501, '#d8d8d0');
lead([[60,501],[133,501],[140,505]], '#d8d8d0');
box(11, 505, 44, 12, '#87cfff');
text('> 0.1 okt.', 11, 511, '#fff');
lead([[57,512],[135,512]], '#87cfff', 3); lead([[57,512],[135,512]], '#fff', 1);
text('Widzialność', 6, 526, '#ff9000');
lead([[67,527],[128,527],[172,465]], '#ff9000');
text('Chmury:', 6, 543);
box(10, 551, 41, 12, '#87cfff');
text('wysokie', 10, 557, '#fff');
lead([[54,557],[120,557]], '#87cfff', 3); lead([[54,557],[120,557]], '#fff', 1);
lead([[136,557],[186,557]], '#fff', 1);
text('średnie', 10, 569, '#a0a0a0');
lead([[48,571],[120,571]], '#a0a0a0'); lead([[132,571],[193,571]], '#a0a0a0');
text('niskie', 10, 581, '#404040');
lead([[40,582],[122,582]], '#404040'); lead([[133,582],[143,582]], '#404040');
text('bardzo niskie', 10, 593);
lead([[74,594],[150,594]], '#000');
text('Mgła', 6, 605, '#ffb400');
lead([[27,605],[217,605],[219,600]], '#ffb400');
lead([[139,623],[150,623],[157,608]], '#000');

var chart = echarts.init(document.getElementById('chart'), null, {renderer: 'canvas', width: 910, height: 660});
chart.setOption({
  animation: false,
  backgroundColor: '#fff',
  textStyle: {fontFamily: FONT},
  grid: grids,
  xAxis: xAxes,
  yAxis: yAxes,
  series: series,
  graphic: {elements: graphic}
});
</script>
</body>
</html>
